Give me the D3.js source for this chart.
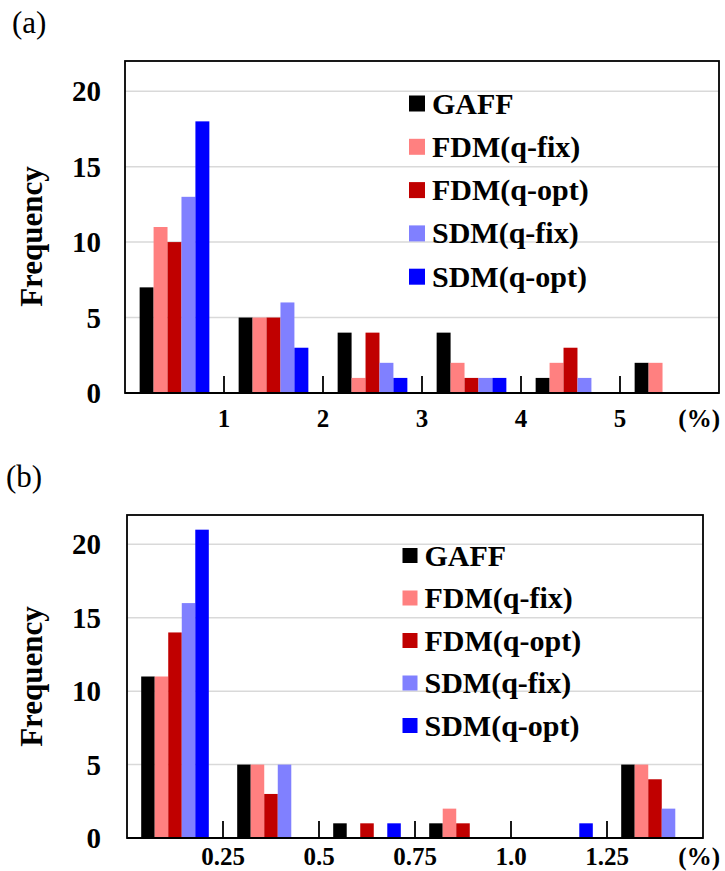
<!DOCTYPE html>
<html>
<head>
<meta charset="utf-8">
<script src="https://cdn.jsdelivr.net/npm/d3@7"></script>
<style>
  html, body { margin: 0; padding: 0; background: #fff; }
  svg { display: block; }
  text { font-family: "Liberation Serif", "Times New Roman", serif; }
</style>
</head>
<body>
<svg id="chart" width="725" height="871"></svg>
<script>
// ---------- data ----------
const series = ["GAFF", "FDM(q-fix)", "FDM(q-opt)", "SDM(q-fix)", "SDM(q-opt)"];
const colors = ["#000000", "#FF8080", "#C00000", "#8080FF", "#0000FF"];
const yTicks = [0, 5, 10, 15, 20];

// panel (a)
const binsA = ["0-1", "1-2", "2-3", "3-4", "4-5", "5-"];
const ticksA = ["1", "2", "3", "4", "5"];
const gaffA   = [7, 5, 4, 4, 1, 2];
const fdmFixA = [11, 5, 1, 2, 2, 2];
const fdmOptA = [10, 5, 4, 1, 3, 0];
const sdmFixA = [13, 6, 2, 1, 1, 0];
const sdmOptA = [18, 3, 1, 1, 0, 0];

// panel (b)
const binsB = ["0-0.25", "0.25-0.5", "0.5-0.75", "0.75-1.0", "1.0-1.25", "1.25-"];
const ticksB = ["0.25", "0.5", "0.75", "1.0", "1.25"];
const gaffB   = [11, 5, 1, 1, 0, 5];
const fdmFixB = [11, 5, 0, 2, 0, 5];
const fdmOptB = [14, 3, 1, 1, 0, 4];
const sdmFixB = [16, 5, 0, 0, 0, 2];
const sdmOptB = [21, 0, 1, 0, 1, 0];

const svg = d3.select("#chart");

function panel(cfg) {
  const { label, labelPos, left, right, top, bottom, bins, ticks, values, legendX, legendY, legendStep, legendBox, yLabelY, xLabelDy } = cfg;
  const g = svg.append("g");

  const x = d3.scaleBand().domain(bins).range([left, right]).paddingInner(0).paddingOuter(0);
  const x1 = d3.scaleBand().domain(series).range([0, x.bandwidth()]).paddingInner(0).paddingOuter(1.05);
  const y = d3.scaleLinear().domain([0, 22]).range([bottom, top]);

  // gridlines
  g.append("g").selectAll("line").data(yTicks.filter(d => d > 0)).join("line")
    .attr("x1", left).attr("x2", right)
    .attr("y1", d => y(d)).attr("y2", d => y(d))
    .attr("stroke", "#d9d9d9").attr("stroke-width", 1.5);

  // bars
  const rows = bins.map((b, i) => ({ bin: b, vals: series.map((s, k) => ({ s, k, v: values[k][i] })) }));
  g.append("g").selectAll("g").data(rows).join("g")
    .attr("transform", d => `translate(${x(d.bin)},0)`)
    .selectAll("rect").data(d => d.vals.filter(e => e.v > 0)).join("rect")
    .attr("x", d => x1(d.s)).attr("width", x1.bandwidth())
    .attr("y", d => y(d.v)).attr("height", d => y(0) - y(d.v))
    .attr("fill", d => colors[d.k]);

  // frame
  g.append("rect").attr("x", left).attr("y", top)
    .attr("width", right - left).attr("height", bottom - top)
    .attr("fill", "none").attr("stroke", "#000").attr("stroke-width", 1.8);
  g.append("line").attr("x1", left).attr("x2", right).attr("y1", bottom).attr("y2", bottom)
    .attr("stroke", "#000").attr("stroke-width", 2.2);

  // tick marks at bin boundaries
  const tickPos = ticks.map((t, i) => x(bins[i + 1]));
  g.append("g").selectAll("line").data(tickPos).join("line")
    .attr("x1", d => d).attr("x2", d => d)
    .attr("y1", bottom).attr("y2", bottom - 17)
    .attr("stroke", "#000").attr("stroke-width", 1.8);

  // x tick labels
  g.append("g").selectAll("text").data(ticks).join("text")
    .attr("x", (d, i) => tickPos[i]).attr("y", bottom + xLabelDy)
    .attr("text-anchor", "middle").attr("font-weight", "bold").attr("font-size", 25)
    .text(d => d);
  g.append("text").attr("x", 720).attr("y", bottom + xLabelDy)
    .attr("text-anchor", "end").attr("font-weight", "bold").attr("font-size", 25)
    .text("(%)");

  // y tick labels
  g.append("g").selectAll("text").data(yTicks).join("text")
    .attr("x", 101).attr("y", d => y(d) + 10)
    .attr("text-anchor", "end").attr("font-weight", "bold").attr("font-size", 29)
    .text(d => d);

  // y axis title
  g.append("text").attr("transform", `translate(42,${yLabelY}) rotate(-90)`)
    .attr("text-anchor", "middle").attr("font-weight", "bold").attr("font-size", 31)
    .text("Frequency");

  // panel label
  g.append("text").attr("x", labelPos[0]).attr("y", labelPos[1])
    .attr("font-size", 31).text(label);

  // legend
  const lg = g.append("g");
  series.forEach((s, k) => {
    const cy = legendY + k * legendStep;
    lg.append("rect").attr("x", legendX).attr("y", cy - legendBox / 2)
      .attr("width", legendBox).attr("height", legendBox).attr("fill", colors[k]);
    lg.append("text").attr("x", legendX + legendBox + 7).attr("y", cy + 10)
      .attr("font-weight", "bold").attr("font-size", 30).text(s);
  });
}

panel({
  label: "(a)", labelPos: [12, 33],
  left: 125, right: 719, top: 61, bottom: 393,
  bins: binsA, ticks: ticksA,
  values: [gaffA, fdmFixA, fdmOptA, sdmFixA, sdmOptA],
  legendX: 409, legendY: 103.5, legendStep: 43.3, legendBox: 16,
  yLabelY: 236.5, xLabelDy: 34
});

panel({
  label: "(b)", labelPos: [6, 487],
  left: 127, right: 703, top: 515, bottom: 838,
  bins: binsB, ticks: ticksB,
  values: [gaffB, fdmFixB, fdmOptB, sdmFixB, sdmOptB],
  legendX: 402.5, legendY: 555.5, legendStep: 42.5, legendBox: 15,
  yLabelY: 676.5, xLabelDy: 27
});
</script>
</body>
</html>
